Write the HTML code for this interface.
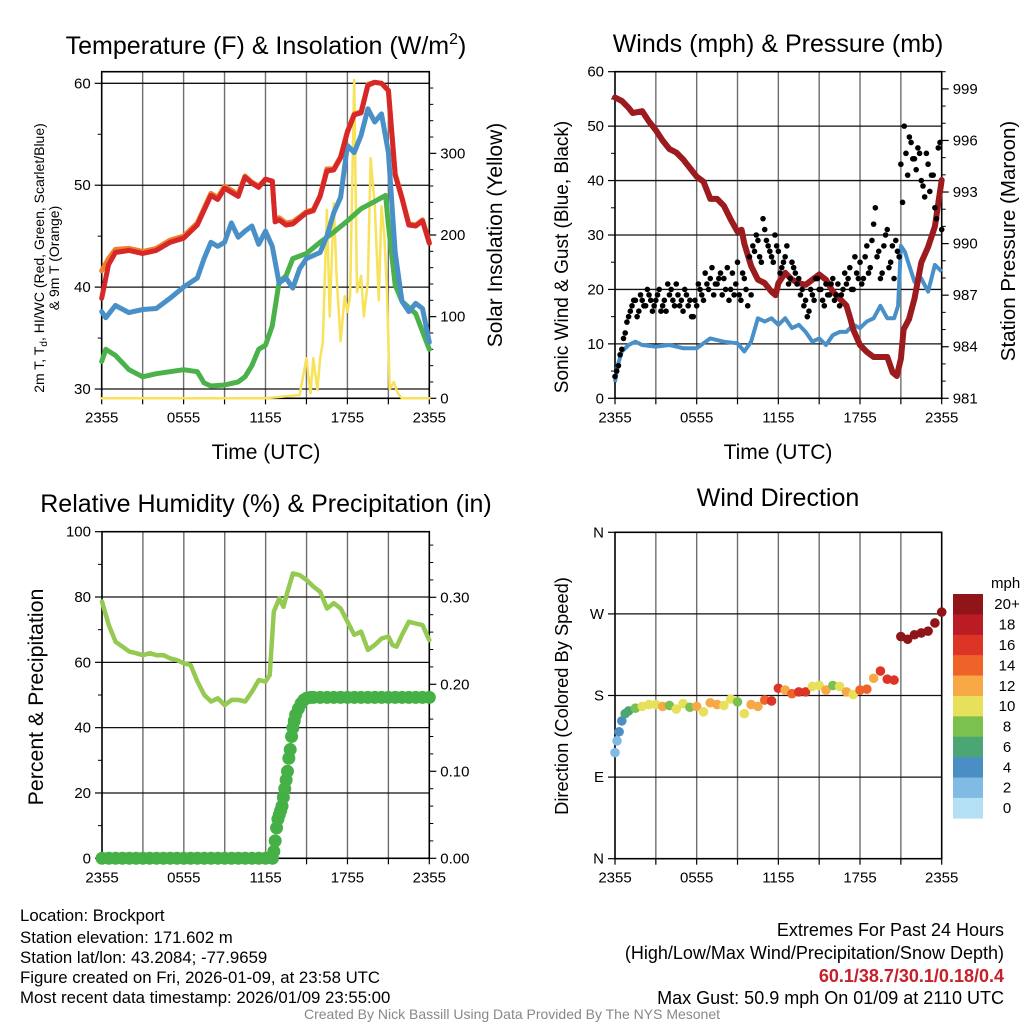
<!DOCTYPE html>
<html><head><meta charset="utf-8"><title>Mesonet Brockport</title>
<style>
html,body{margin:0;padding:0;background:#fff;}
svg{display:block;font-family:"Liberation Sans",Arial,sans-serif;}
</style></head>
<body>
<svg id="chart" width="1024" height="1024" viewBox="0 0 1024 1024" xmlns="http://www.w3.org/2000/svg">
<rect x="0" y="0" width="1024" height="1024" fill="#fff"/>
<g id="layer"></g>
<text x="266" y="54" font-size="25" text-anchor="middle">Temperature (F) &amp; Insolation (W/m<tspan dy="-10" font-size="16">2</tspan><tspan dy="10">)</tspan></text>
<text x="778" y="52" font-size="25" text-anchor="middle">Winds (mph) &amp; Pressure (mb)</text>
<text x="266" y="512" font-size="25" text-anchor="middle">Relative Humidity (%) &amp; Precipitation (in)</text>
<text x="778" y="506" font-size="25" text-anchor="middle">Wind Direction</text>
<text x="266" y="459" font-size="21" text-anchor="middle">Time (UTC)</text>
<text x="778" y="459" font-size="21" text-anchor="middle">Time (UTC)</text>
<g transform="translate(44,258) rotate(-90)" font-size="14" text-anchor="middle">
<text x="0" y="0">2m T, T<tspan font-size="10" dy="3">d</tspan><tspan dy="-3">, HI/WC (Red, Green, Scarlet/Blue)</tspan></text>
<text x="0" y="15">&amp; 9m T (Orange)</text></g>
<text transform="translate(502,235) rotate(-90)" font-size="21" text-anchor="middle">Solar Insolation (Yellow)</text>
<text transform="translate(568,257) rotate(-90)" font-size="19" text-anchor="middle">Sonic Wind &amp; Gust (Blue, Black)</text>
<text transform="translate(1015,241) rotate(-90)" font-size="20.5" text-anchor="middle">Station Pressure (Maroon)</text>
<text transform="translate(43,697) rotate(-90)" font-size="21.3" text-anchor="middle">Percent &amp; Precipitation</text>
<text transform="translate(568,696) rotate(-90)" font-size="18.3" text-anchor="middle">Direction (Colored By Speed)</text>
<g font-size="16.8">
<text x="20" y="921">Location: Brockport</text>
<text x="20" y="943">Station elevation: 171.602 m</text>
<text x="20" y="963">Station lat/lon: 43.2084; -77.9659</text>
<text x="20" y="983">Figure created on Fri, 2026-01-09, at 23:58 UTC</text>
<text x="20" y="1003">Most recent data timestamp: 2026/01/09 23:55:00</text>
</g>
<g font-size="18" text-anchor="end">
<text x="1004" y="936">Extremes For Past 24 Hours</text>
<text x="1004" y="959">(High/Low/Max Wind/Precipitation/Snow Depth)</text>
<text x="1004" y="982" fill="#c8202a" font-weight="bold">60.1/38.7/30.1/0.18/0.4</text>
<text x="1004" y="1004">Max Gust: 50.9 mph On 01/09 at 2110 UTC</text>
</g>
<text x="512" y="1019" font-size="14" fill="#888" text-anchor="middle">Created By Nick Bassill Using Data Provided By The NYS Mesonet</text>
</svg>
<script>
// ---------- data ----------
const timeTicks = [0, 6, 12, 18, 24];
const timeTickLabels = ["2355", "0555", "1155", "1755", "2355"];
const tempHours = [0,0.5,1,2,3,4,5,6,7,8,8.5,9,10,10.5,11,11.5,12,12.5,12.7,13,13.5,14,15,15.5,16,16.5,17,17.5,18,18.5,19,19.5,20,20.5,21,21.5,22,22.5,23,23.5,24];
const tempRed = [38.9,42.2,43.4,43.6,43.3,43.6,44.4,44.8,46.1,49.0,48.6,49.7,48.9,50.8,50.2,49.8,50.6,50.4,46.4,46.6,46.1,46.2,47.3,47.5,48.9,51.4,51.5,52.7,55.2,56.9,57.1,59.8,60.1,60.0,59.3,51.0,48.7,46.1,46.0,46.5,44.3];
const tempOrange = [41.6,42.8,43.7,43.8,43.5,43.8,44.6,45.0,46.3,49.2,48.8,49.9,49.1,50.9,50.3,49.9,50.6,50.4,46.5,46.8,46.3,46.4,47.4,47.6,49.0,51.6,51.6,52.8,55.3,57.0,57.2,59.9,60.1,60.0,59.3,51.1,48.8,46.2,46.1,46.6,44.4];
const tempBlueHours = [0,0.3,1,2,3,4,5,6,7,7.5,8,8.5,9,9.5,10,10.5,11,11.5,12,12.5,13,13.5,14,14.5,15,16,16.5,17,17.5,18,18.5,19,19.5,20,20.5,21,21.5,22,22.5,23,23.5,24];
const tempBlue = [37.6,37.0,38.2,37.5,37.8,37.9,38.9,40.0,40.9,42.8,44.4,44.0,44.4,46.3,44.9,45.5,46.0,44.2,45.5,44.0,40.4,40.9,39.9,41.8,42.8,43.4,45.0,47.3,48.8,53.9,53.2,54.9,57.5,56.2,57.0,53.2,43.4,38.6,37.6,38.4,37.9,34.6];
const tempGreenHours = [0,0.3,1,2,3,4,5,6,7,7.5,8,9,10,10.5,11,11.5,12,12.5,13,13.5,14,15,16,17,18,19,20,20.8,21,21.5,22,23,24];
const tempGreen = [32.7,33.9,33.3,31.9,31.2,31.5,31.7,31.9,31.7,30.6,30.3,30.4,30.7,31.2,32.3,33.9,34.3,36.2,40.5,41.1,42.8,43.3,44.4,45.4,46.5,47.7,48.4,49.0,46.1,40.2,38.6,37.4,33.9];
const solarHours = [0,12,14.5,15,15.3,15.5,15.8,16,16.2,16.5,16.7,17,17.2,17.5,17.8,18,18.2,18.5,18.7,19,19.2,19.5,19.7,20,20.3,20.5,20.7,20.9,21.1,21.4,21.7,22,24];
const solarVals = [0,0,4,49,6,49,10,49,68,231,100,239,151,70,125,106,125,390,130,150,100,143,294,238,120,235,200,130,11,20,6,0,0];
const windHours = [0,0.2,0.5,1,1.5,2,3,4,5,6,7,8,9,9.5,10,10.5,11,11.5,12,12.5,13,13.5,14,14.5,15,15.5,16,16.5,17,17.5,18,18.5,19,19.5,20,20.5,20.8,21,21.3,21.6,22,22.5,23,23.5,24];
const windSpeed = [3,6,8.6,9.8,10.4,9.8,9.5,9.8,9.2,9.2,11,10.4,10.1,8.6,10.4,14.7,14.1,14.7,13.5,14.7,12.9,13.5,12.2,10.4,11,9.8,11.6,12.2,12.2,13.5,12.9,14.1,14.7,17,14.7,14.7,17,28,26.9,24.5,21.4,22,19.6,24.5,23.3];
const gustA = [4,6,9,12,15,17,18,16,18,17,19,16,18,20,17,16,19,18,21,17,16,19,18,15,17,20,18,21,22,19,21,23,22,24,20,19,25,18,22,17,19,27,29,25,31,28,26,30,27,24,26,21,25,23,22,20,18,16,19,22,20,18,21,19,22,19,17,20,21,24,20,23,25,22,28,24,32,26,22,28,31,25,22,27,43,50,41,47,44,46,40,37,43,41,35,46,31];
const gustB = [5,8,11,14,16,18,15,19,17,20,18,17,19,16,18,21,20,17,19,18,20,17,15,18,21,19,23,20,24,21,22,19,20,18,23,21,19,23,20,26,28,30,26,33,29,27,25,28,23,25,28,22,24,21,19,17,15,20,18,22,20,17,19,21,18,21,19,23,22,20,26,22,21,26,23,29,35,27,23,30,24,28,29,26,36,45,48,44,42,45,39,45,38,41,33,47];
const presHours = [0,0.5,1,1.3,2,2.5,3,3.5,4,4.5,5,5.5,6,6.5,7,7.5,8,8.5,9,9.3,9.5,10,10.5,11,11.5,11.8,12,12.5,13,13.5,14,14.5,15,15.5,16,16.5,17,17.3,17.5,18,18.5,19,19.5,20,20.4,20.7,21,21.2,21.6,22,22.5,23,23.5,24];
const presVals = [998.5,998.3,997.9,997.6,997.7,997.1,996.6,996.0,995.5,995.3,994.9,994.4,993.9,993.6,992.6,992.6,992.2,991.4,990.7,990.8,990.0,988.7,987.9,987.7,987.2,987.0,987.7,988.3,987.9,987.7,987.6,987.9,988.2,987.9,987.2,986.8,986.4,985.6,985.0,984.1,983.7,983.4,983.4,983.4,982.5,982.3,983.3,985.0,985.6,986.8,988.9,989.8,991.0,993.7];
const rhHours = [0,0.5,1,1.5,2,2.5,3,3.5,4,4.5,5,5.5,6,6.5,7,7.5,8,8.5,9,9.5,10,10.5,11,11.5,12,12.3,12.6,13,13.3,13.6,14,14.5,15,15.5,16,16.5,17,17.5,18,18.5,19,19.5,20,20.5,21,21.3,21.6,22,22.5,23,23.5,24];
const rhVals = [78.6,71.4,66.3,64.8,63.3,62.8,62.2,62.8,62.2,62.2,61.2,60.7,59.7,59.2,54.1,50.0,48.0,49.0,46.9,48.5,48.5,48.0,51.0,54.6,54.1,56.1,75.5,79.6,77.0,81.6,87.2,86.7,85.2,83.2,81.6,76.5,78.1,76.5,72.4,68.4,69.4,63.8,65.3,67.3,67.9,65.3,64.8,68.4,72.4,71.9,71.4,66.8];
const precipHours = [0,0.5,1,1.5,2,2.5,3,3.5,4,4.5,5,5.5,6,6.5,7,7.5,8,8.5,9,9.5,10,10.5,11,11.5,12,12.5,12.6,12.7,12.8,12.9,13.0,13.1,13.2,13.3,13.4,13.5,13.6,13.7,13.8,13.9,14.0,14.1,14.2,14.4,14.6,14.8,15.0,15.3,15.5,16,16.5,17,17.5,18,18.5,19,19.5,20,20.5,21,21.5,22,22.5,23,23.5,24];
const precipVals = [0,0,0,0,0,0,0,0,0,0,0,0,0,0,0,0,0,0,0,0,0,0,0,0,0,0,0.008,0.02,0.035,0.045,0.05,0.055,0.06,0.07,0.08,0.09,0.10,0.115,0.125,0.14,0.15,0.158,0.165,0.172,0.178,0.182,0.184,0.185,0.185,0.185,0.185,0.185,0.185,0.185,0.185,0.185,0.185,0.185,0.185,0.185,0.185,0.185,0.185,0.185,0.185,0.185];
const dirHours = [0,0.15,0.3,0.5,0.75,1,1.5,2,2.5,3,3.5,4,4.5,5,5.5,6,6.5,7,7.5,8,8.5,9,9.5,10,10.5,11,11.5,12,12.5,13,13.5,14,14.5,15,15.5,16,16.5,17,17.5,18,18.5,19,19.5,20,20.5,21,21.5,22,22.5,23,23.5,24];
const dirVals = [117,130,140,152,160,163,166,168,170,170,168,169,165,171,167,168,162,172,170,169,176,173,160,170,168,175,174,188,186,182,184,184,190,191,186,191,190,184,181,186,187,199,207,198,197,245,242,247,249,251,260,272];
const dirSpeeds = [2,3,4,5,6.5,7,8.5,10,10.5,10,12,9,11,10,8.5,12,10,12.5,12,10.5,11,8.5,10.5,13,12,15,16,16.5,13,15,16,17,11,10.5,12.5,9,10.5,12.5,11,14,14,13,16,17,16,21,21,22,21,22,21,21];
const cbLabels = ["20+","18","16","14","12","10","8","6","4","2","0"];
const cbColors = ["#8f1519","#bb1c24","#dc3427","#ef6329","#f7a945","#e6e05a","#7ac14f","#4aa672","#4a8ec5","#7fbbe3","#b3e0f5"];

// ---------- helpers ----------
const NS = "http://www.w3.org/2000/svg";
const layer = document.getElementById("layer");
function mk(tag, attrs, parent) {
  const e = document.createElementNS(NS, tag);
  for (const k in attrs) e.setAttribute(k, attrs[k]);
  (parent || layer).appendChild(e);
  return e;
}
function scale(d0, d1, r0, r1) { return v => r0 + (v - d0) / (d1 - d0) * (r1 - r0); }
function pathFrom(xs, ys, fx, fy) {
  let d = "";
  for (let i = 0; i < xs.length; i++) d += (i ? "L" : "M") + fx(xs[i]).toFixed(1) + "," + fy(ys[i]).toFixed(1);
  return d;
}
function speedColor(s) {
  const idx = s >= 20 ? 0 : 10 - Math.floor(s / 2);
  return cbColors[Math.max(0, Math.min(10, idx))];
}

function panel(name, P) {
  const g = mk("g", {});
  
  
  const fx = scale(0, 24, P.x0, P.x1);
  for (let h = 3; h < 24; h += 3) {
    const l = mk("line", {x1: fx(h), x2: fx(h), y1: P.yt, y2: P.yb, stroke: "#6e6e6e", "stroke-width": 1.4}, g);
    
    
  }
  P.hgrid.forEach(y => {
    const l = mk("line", {x1: P.x0, x2: P.x1, y1: y, y2: y, stroke: "#111", "stroke-width": 1.3}, g);
    
    
  });
  const fr = mk("rect", {x: P.x0, y: P.yt, width: P.x1 - P.x0, height: P.yb - P.yt, fill: "none", stroke: "#000", "stroke-width": 1.6}, g);
  
  
  for (let h = 0; h <= 24; h += 3) {
    mk("line", {x1: fx(h), x2: fx(h), y1: P.yb, y2: P.yb + 6, stroke: "#000", "stroke-width": 1.2}, g);
  }
  timeTicks.forEach((t, i) => {
    const tx = mk("text", {x: fx(t), y: P.yb + 24, "font-size": 15, "text-anchor": "middle"}, g);
    tx.textContent = timeTickLabels[i];
    
    
  });
  return {g, fx};
}
function yAxis(g, side, P, fy, minors, majors, labels) {
  const x = side === "left" ? P.x0 : P.x1;
  const dir = side === "left" ? -1 : 1;
  minors.forEach(v => mk("line", {x1: x, x2: x + dir * 4, y1: fy(v), y2: fy(v), stroke: "#000", "stroke-width": 1}, g));
  majors.forEach((v, i) => {
    mk("line", {x1: x, x2: x + dir * 7, y1: fy(v), y2: fy(v), stroke: "#000", "stroke-width": 1.2}, g);
    const t = mk("text", {x: x + dir * 11, y: fy(v) + 5, "font-size": 15, "text-anchor": side === "left" ? "end" : "start"}, g);
    t.textContent = labels[i];
    
    
  });
}

// ---------- panel 1: temperature ----------
(function () {
  const P = {x0: 101.7, x1: 429.3, yt: 71.7, yb: 398.3};
  const fyT = scale(29.09, 61.14, P.yb, P.yt);
  const fyS = scale(0, 400, P.yb, P.yt);
  P.hgrid = [30, 40, 50, 60].map(fyT);
  const {g, fx} = panel("temperature-panel", P);
  yAxis(g, "left", P, fyT, [35, 45, 55], [30, 40, 50, 60], ["30", "40", "50", "60"]);
  yAxis(g, "right", P, fyS, [20,40,60,80,120,140,160,180,220,240,260,280,320,340,360,380], [0, 100, 200, 300], ["0", "100", "200", "300"]);
  const series = [
    ["solar-line", solarHours, solarVals, fyS, "#f7e25a", 2.5],
    ["green-line", tempGreenHours, tempGreen, fyT, "#4bb14a", 5],
    ["blue-line", tempBlueHours, tempBlue, fyT, "#4a90c8", 5],
    ["orange-line", tempHours, tempOrange, fyT, "#f07f27", 5],
    ["red-line", tempHours, tempRed, fyT, "#d62828", 5]
  ];
  series.forEach(s => {
    const p = mk("path", {d: pathFrom(s[1], s[2], fx, s[3]), fill: "none", stroke: s[4], "stroke-width": s[5], "stroke-linejoin": "round", "stroke-linecap": "round"}, g);
    
    
  });
})();

// ---------- panel 2: winds ----------
(function () {
  const P = {x0: 615, x1: 941.7, yt: 71.7, yb: 398.3};
  const fyW = scale(0, 60, P.yb, P.yt);
  const fyP = scale(981, 1000, P.yb, P.yt);
  P.hgrid = [10, 20, 30, 40, 50].map(fyW);
  const {g, fx} = panel("winds-panel", P);
  yAxis(g, "left", P, fyW, [5,15,25,35,45,55], [0,10,20,30,40,50,60], ["0","10","20","30","40","50","60"]);
  yAxis(g, "right", P, fyP, [982,983,985,986,988,989,991,992,994,995,997,998,1000], [981,984,987,990,993,996,999], ["981","984","987","990","993","996","999"]);
  const wl = mk("path", {d: pathFrom(windHours, windSpeed, fx, fyW), fill: "none", stroke: "#4a90c8", "stroke-width": 4, "stroke-linejoin": "round"}, g);
  
  
  const pl = mk("path", {d: pathFrom(presHours, presVals, fx, fyP), fill: "none", stroke: "#9b1b1e", "stroke-width": 6, "stroke-linejoin": "round", "stroke-linecap": "round"}, g);
  
  
  gustA.forEach((v, i) => {
    const c = mk("circle", {cx: fx(i * 0.25), cy: fyW(v), r: 2.8, fill: "#000"}, g);
    
    
  });
  gustB.forEach((v, i) => {
    const c = mk("circle", {cx: fx(i * 0.25 + 0.125), cy: fyW(v), r: 2.8, fill: "#000"}, g);
    
    
  });
})();

// ---------- panel 3: RH & precip ----------
(function () {
  const P = {x0: 102, x1: 429.3, yt: 531.7, yb: 858.3};
  const fyR = scale(0, 100, P.yb, P.yt);
  const fyQ = scale(0, 0.3754, P.yb, P.yt);
  P.hgrid = [20, 40, 60, 80].map(fyR);
  const {g, fx} = panel("humidity-panel", P);
  yAxis(g, "left", P, fyR, [10,30,50,70,90], [0,20,40,60,80,100], ["0","20","40","60","80","100"]);
  yAxis(g, "right", P, fyQ, [0.02,0.04,0.06,0.08,0.12,0.14,0.16,0.18,0.22,0.24,0.26,0.28,0.32,0.34,0.36], [0, 0.1, 0.2, 0.3], ["0.00","0.10","0.20","0.30"]);
  const rl = mk("path", {d: pathFrom(rhHours, rhVals, fx, fyR), fill: "none", stroke: "#94c952", "stroke-width": 4.5, "stroke-linejoin": "round", "stroke-linecap": "round"}, g);
  
  
  precipHours.forEach((h, i) => {
    const c = mk("circle", {cx: fx(h), cy: fyQ(precipVals[i]), r: 6.5, fill: "#45b045"}, g);
    
    
  });
})();

// ---------- panel 4: wind direction ----------
(function () {
  const P = {x0: 615, x1: 941.7, yt: 532.3, yb: 858.7};
  const fyD = scale(0, 360, P.yb, P.yt);
  P.hgrid = [90, 180, 270].map(fyD);
  const {g, fx} = panel("direction-panel", P);
  yAxis(g, "left", P, fyD, [], [0, 90, 180, 270, 360], ["N", "E", "S", "W", "N"]);
  dirHours.forEach((h, i) => {
    const c = mk("circle", {cx: fx(h), cy: fyD(dirVals[i]), r: 4.8, fill: speedColor(dirSpeeds[i])}, g);
    
    
  });
  const cb = mk("g", {});
  
  
  const t = mk("text", {x: 991, y: 588, "font-size": 15}, cb);
  t.textContent = "mph";
  const bh = (818.3 - 594) / cbColors.length;
  cbColors.forEach((col, i) => {
    const r = mk("rect", {x: 953, y: 594 + i * bh, width: 30, height: bh + 0.3, fill: col}, cb);
    
    
    const lt = mk("text", {x: 1007, y: 594 + i * bh + bh / 2 + 5, "font-size": 15, "text-anchor": "middle"}, cb);
    lt.textContent = cbLabels[i];
    
    
  });
})();
</script>
</body></html>
